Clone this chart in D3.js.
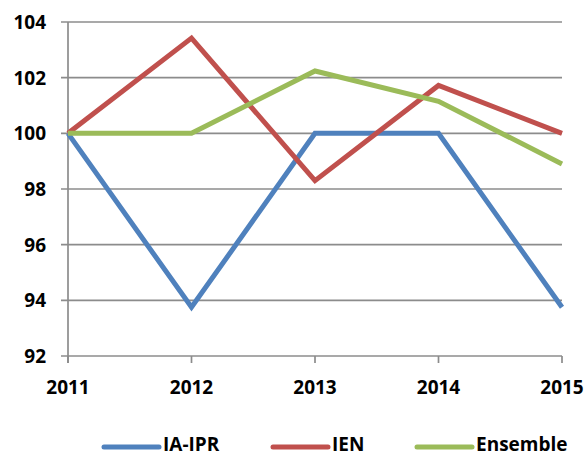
<!DOCTYPE html>
<html lang="en">
<head>
<meta charset="UTF-8">
<title>Indices</title>
<script src="https://d3js.org/d3.v7.min.js"></script>
<style>
    body { margin: 0; background: #fff; }
    text { font-family: "Open Sans", sans-serif; font-weight: bold; fill: #000; }
</style>
</head>
<body>
<div id="chart"></div>
<script>
    const years = ["2011", "2012", "2013", "2014", "2015"];
    const iaIpr = [100, 93.75, 100, 100, 93.75];
    const ien = [100, 103.42, 98.3, 101.72, 100];
    const ensemble = [100, 100, 102.24, 101.15, 98.9];
    const yTicks = [92, 94, 96, 98, 100, 102, 104];

    const seriesList = [
        { name: "IA-IPR", values: iaIpr, color: "#4F81BD" },
        { name: "IEN", values: ien, color: "#C0504D" },
        { name: "Ensemble", values: ensemble, color: "#9BBB59" }
    ];

    const width = 587, height = 456;
    const margin = { top: 22, right: 25, bottom: 100, left: 68 };

    const svg = d3.select("#chart").append("svg")
        .attr("width", width)
        .attr("height", height);

    const x = d3.scalePoint()
        .domain(years)
        .range([margin.left, width - margin.right]);

    const y = d3.scaleLinear()
        .domain([92, 104])
        .range([height - margin.bottom, margin.top]);

    // horizontal gridlines + tick stubs
    svg.append("g")
        .selectAll("line")
        .data(yTicks)
        .join("line")
        .attr("x1", margin.left - 7)
        .attr("x2", width - margin.right)
        .attr("y1", d => y(d))
        .attr("y2", d => y(d))
        .attr("stroke", "#8c8c8c")
        .attr("stroke-width", 1.7);

    // y axis line
    svg.append("line")
        .attr("x1", margin.left).attr("x2", margin.left)
        .attr("y1", y(104)).attr("y2", y(92) + 7)
        .attr("stroke", "#8c8c8c")
        .attr("stroke-width", 1.7);

    // x tick marks
    svg.append("g")
        .selectAll("line")
        .data(years)
        .join("line")
        .attr("x1", d => x(d)).attr("x2", d => x(d))
        .attr("y1", y(92)).attr("y2", y(92) + 7)
        .attr("stroke", "#8c8c8c")
        .attr("stroke-width", 1.7);

    svg.append("g")
        .selectAll("text")
        .data(yTicks)
        .join("text")
        .attr("x", 46)
        .attr("y", d => y(d))
        .attr("dy", "0.36em")
        .attr("text-anchor", "end")
        .attr("font-size", 19)
        .text(d => d);

    svg.append("g")
        .selectAll("text")
        .data(years)
        .join("text")
        .attr("x", d => x(d))
        .attr("y", 394)
        .attr("text-anchor", "middle")
        .attr("font-size", 19)
        .text(d => d);

    const line = d3.line()
        .x((d, i) => x(years[i]))
        .y(d => y(d));

    svg.append("g")
        .selectAll("path")
        .data(seriesList)
        .join("path")
        .attr("d", d => line(d.values))
        .attr("fill", "none")
        .attr("stroke", d => d.color)
        .attr("stroke-width", 5)
        .attr("stroke-linejoin", "miter");

    // legend
    const legendX = [104, 273, 417];
    const legend = svg.append("g")
        .selectAll("g")
        .data(seriesList)
        .join("g")
        .attr("transform", (d, i) => `translate(${legendX[i]}, 447)`);

    legend.append("line")
        .attr("x1", 0).attr("x2", 55)
        .attr("stroke", d => d.color)
        .attr("stroke-width", 5)
        .attr("stroke-linecap", "round");

    legend.append("text")
        .attr("x", 59)
        .attr("y", 4)
        .attr("font-size", 19)
        .text(d => d.name);
</script>
</body>
</html>
